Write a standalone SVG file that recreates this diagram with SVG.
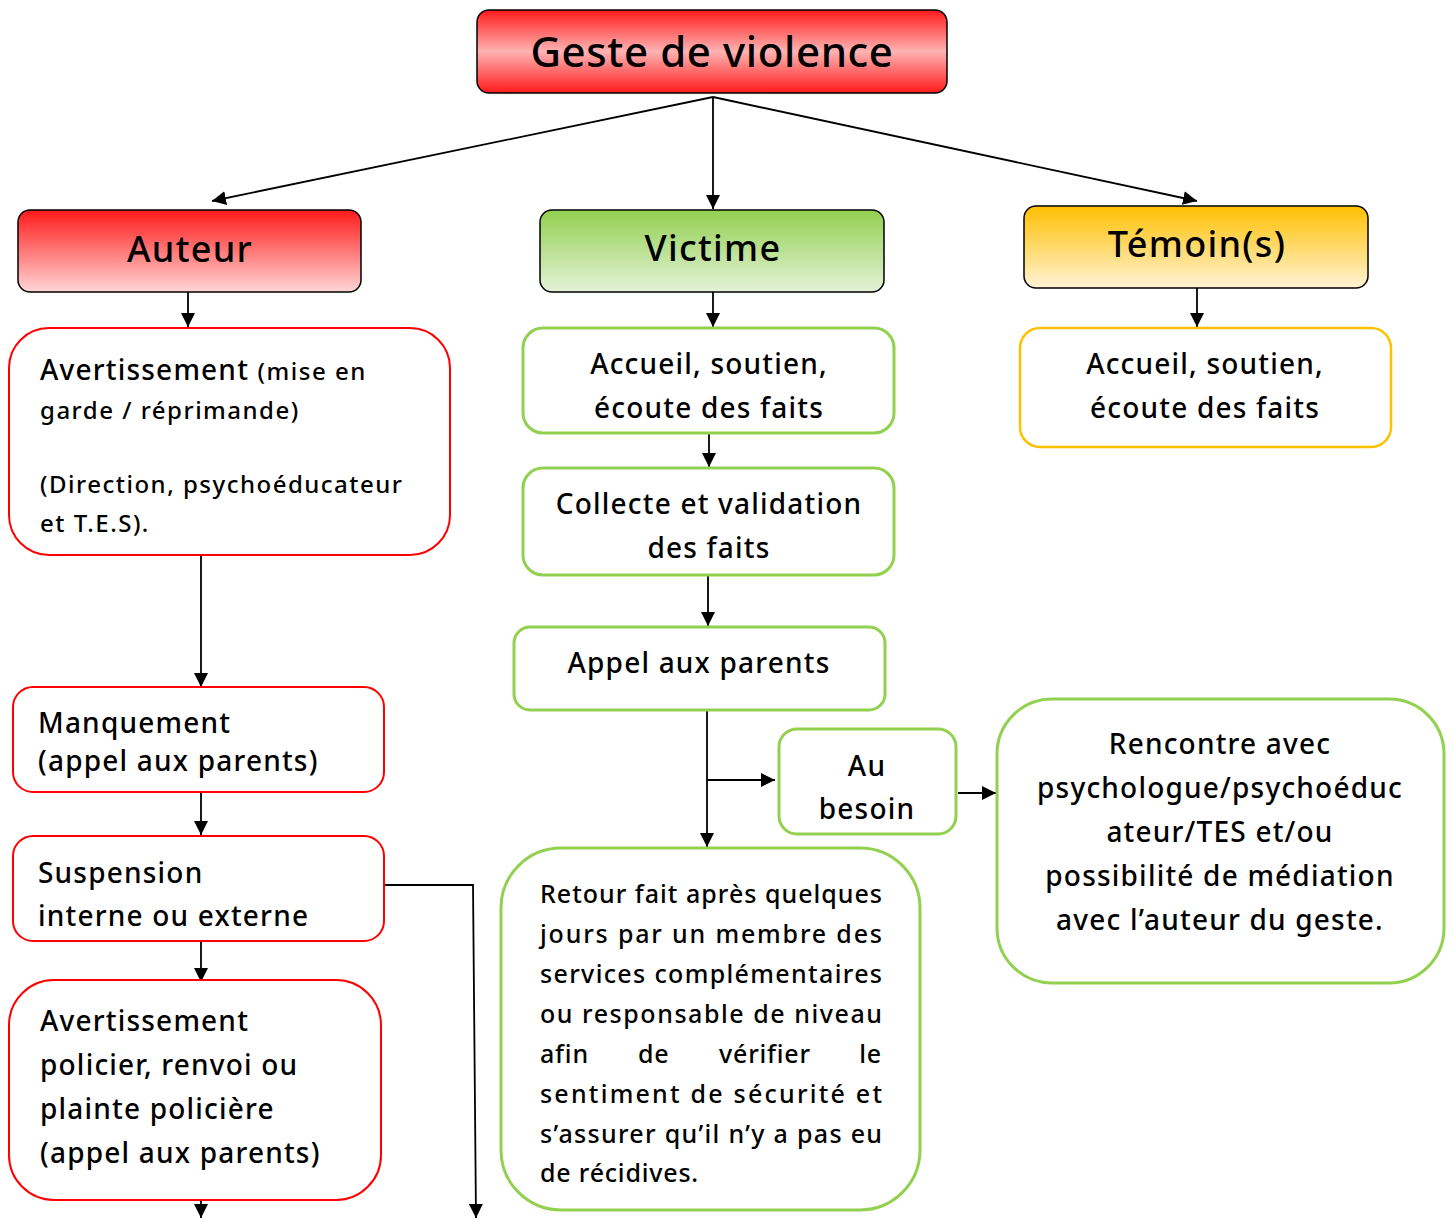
<svg xmlns="http://www.w3.org/2000/svg" width="1453" height="1218" viewBox="0 0 1453 1218">
<defs>
<linearGradient id="gTop" x1="0" y1="0" x2="0" y2="1">
<stop offset="0" stop-color="#ff1a1a"/><stop offset="0.5" stop-color="#ffb3b3"/><stop offset="1" stop-color="#ff1a1a"/>
</linearGradient>
<linearGradient id="gRed" x1="0" y1="0" x2="0" y2="1">
<stop offset="0" stop-color="#ff1a1a"/><stop offset="1" stop-color="#ffd6d6"/>
</linearGradient>
<linearGradient id="gGreen" x1="0" y1="0" x2="0" y2="1">
<stop offset="0" stop-color="#92d050"/><stop offset="1" stop-color="#e4f2d8"/>
</linearGradient>
<linearGradient id="gOrange" x1="0" y1="0" x2="0" y2="1">
<stop offset="0" stop-color="#ffc000"/><stop offset="1" stop-color="#fff3d6"/>
</linearGradient>
<marker id="ah" markerUnits="userSpaceOnUse" markerWidth="14" markerHeight="14" viewBox="0 0 14 14" refX="14" refY="7" orient="auto">
<path d="M0,0 L14,7 L0,14 Z" fill="#000"/>
</marker>
</defs>
<style>
text{font-family:"Noto Sans","DejaVu Sans",sans-serif;fill:#000;font-weight:500}
.head{stroke:#000;stroke-width:1.5}
.red{fill:#fff;stroke:#ff0000;stroke-width:2}
.green{fill:#fff;stroke:#92d050;stroke-width:3}
.orange{fill:#fff;stroke:#ffc000;stroke-width:2.5}
.t26{font-size:28px;letter-spacing:1.2px}
.t22{font-size:24px;letter-spacing:1.5px}
.rt{font-size:25px}
.h{font-size:36px;letter-spacing:1.3px}
.c{text-anchor:middle}
.conn{fill:none;stroke:#000;stroke-width:1.8}
</style>

<g id="connectors">
<line class="conn" x1="713" y1="97" x2="212" y2="201" marker-end="url(#ah)"/>
<line class="conn" x1="713" y1="97" x2="713" y2="209" marker-end="url(#ah)"/>
<line class="conn" x1="713" y1="97" x2="1197" y2="201" marker-end="url(#ah)"/>
<line class="conn" x1="188" y1="292" x2="188" y2="327" marker-end="url(#ah)"/>
<line class="conn" x1="201" y1="555" x2="201" y2="687" marker-end="url(#ah)"/>
<line class="conn" x1="201" y1="792" x2="201" y2="835" marker-end="url(#ah)"/>
<line class="conn" x1="201" y1="941" x2="201" y2="982" marker-end="url(#ah)"/>
<line class="conn" x1="201" y1="1200" x2="201" y2="1218" marker-end="url(#ah)"/>
<polyline class="conn" points="385,885 473,885 476,1218" marker-end="url(#ah)"/>
<line class="conn" x1="713" y1="292" x2="713" y2="327" marker-end="url(#ah)"/>
<line class="conn" x1="709" y1="433" x2="709" y2="467" marker-end="url(#ah)"/>
<line class="conn" x1="708" y1="576" x2="708" y2="626" marker-end="url(#ah)"/>
<line class="conn" x1="707" y1="711" x2="707" y2="847" marker-end="url(#ah)"/>
<line class="conn" x1="707" y1="780" x2="775" y2="780" marker-end="url(#ah)"/>
<line class="conn" x1="958" y1="793" x2="996" y2="793" marker-end="url(#ah)"/>
<line class="conn" x1="1197" y1="288" x2="1197" y2="327" marker-end="url(#ah)"/>
</g>

<g id="geste">
<rect x="477" y="10" width="470" height="83" rx="12" fill="url(#gTop)" class="head"/>
<text x="712" y="67" class="c" font-size="42" letter-spacing="0.6">Geste de violence</text>
</g>
<g id="auteur">
<rect x="18" y="210" width="343" height="82" rx="12" fill="url(#gRed)" class="head"/>
<text x="190" y="262" class="c h">Auteur</text>
</g>
<g id="victime">
<rect x="540" y="210" width="344" height="82" rx="12" fill="url(#gGreen)" class="head"/>
<text x="713" y="261" class="c h">Victime</text>
</g>
<g id="temoin">
<rect x="1024" y="206" width="344" height="82" rx="12" fill="url(#gOrange)" class="head"/>
<text x="1197" y="257" class="c h">Témoin(s)</text>
</g>

<g id="avertissement">
<rect x="9" y="328" width="441" height="227" rx="40" class="red"/>
<text x="40" y="380" class="t26">Avertissement <tspan class="t22">(mise en</tspan></text>
<text x="40" y="419" class="t22">garde / réprimande)</text>
<text x="40" y="493" class="t22">(Direction, psychoéducateur</text>
<text x="40" y="532" class="t22">et T.E.S).</text>
</g>
<g id="manquement">
<rect x="13" y="687" width="371" height="105" rx="20" class="red"/>
<text x="38" y="733" class="t26">Manquement</text>
<text x="38" y="771" class="t26">(appel aux parents)</text>
</g>
<g id="suspension">
<rect x="13" y="836" width="371" height="105" rx="20" class="red"/>
<text x="38" y="883" class="t26">Suspension</text>
<text x="38" y="926" class="t26">interne ou externe</text>
</g>
<g id="policier">
<rect x="9" y="980" width="372" height="220" rx="45" class="red"/>
<text x="40" y="1031" class="t26">Avertissement</text>
<text x="40" y="1075" class="t26">policier, renvoi ou</text>
<text x="40" y="1119" class="t26">plainte policière</text>
<text x="40" y="1163" class="t26">(appel aux parents)</text>
</g>

<g id="accueil-victime">
<rect x="523" y="328" width="371" height="105" rx="20" class="green"/>
<text x="709" y="374" class="c t26">Accueil, soutien,</text>
<text x="709" y="418" class="c t26">écoute des faits</text>
</g>
<g id="collecte">
<rect x="523" y="468" width="371" height="107" rx="20" class="green"/>
<text x="709" y="514" class="c t26">Collecte et validation</text>
<text x="709" y="558" class="c t26">des faits</text>
</g>
<g id="appel">
<rect x="514" y="627" width="371" height="83" rx="16" class="green"/>
<text x="699" y="673" class="c t26">Appel aux parents</text>
</g>
<g id="au-besoin">
<rect x="779" y="729" width="177" height="105" rx="18" class="green"/>
<text x="867" y="776" class="c t26">Au</text>
<text x="867" y="819" class="c t26">besoin</text>
</g>
<g id="rencontre">
<rect x="997" y="699" width="447" height="284" rx="55" class="green"/>
<text x="1220" y="754" class="c t26">Rencontre avec</text>
<text x="1220" y="798" class="c t26">psychologue/psychoéduc</text>
<text x="1220" y="842" class="c t26">ateur/TES et/ou</text>
<text x="1220" y="886" class="c t26">possibilité de médiation</text>
<text x="1220" y="930" class="c t26">avec l’auteur du geste.</text>
</g>
<g id="retour">
<rect x="501" y="848" width="419" height="362" rx="60" class="green"/>
<text x="540" y="903" class="rt" textLength="342" lengthAdjust="spacing">Retour fait après quelques</text>
<text x="540" y="943" class="rt" textLength="342" lengthAdjust="spacing">jours par un membre des</text>
<text x="540" y="983" class="rt" textLength="342" lengthAdjust="spacing">services complémentaires</text>
<text x="540" y="1023" class="rt" textLength="342" lengthAdjust="spacing">ou responsable de niveau</text>
<text y="1063" class="rt" letter-spacing="0.8"><tspan x="540">afin</tspan><tspan x="638">de</tspan><tspan x="719">vérifier</tspan><tspan x="882" text-anchor="end">le</tspan></text>
<text x="540" y="1103" class="rt" textLength="342" lengthAdjust="spacing">sentiment de sécurité et</text>
<text x="540" y="1143" class="rt" textLength="342" lengthAdjust="spacing">s’assurer qu’il n’y a pas eu</text>
<text x="540" y="1182" class="rt" letter-spacing="0.8">de récidives.</text>
</g>

<g id="accueil-temoin">
<rect x="1020" y="328" width="371" height="119" rx="20" class="orange"/>
<text x="1205" y="374" class="c t26">Accueil, soutien,</text>
<text x="1205" y="418" class="c t26">écoute des faits</text>
</g>
</svg>
